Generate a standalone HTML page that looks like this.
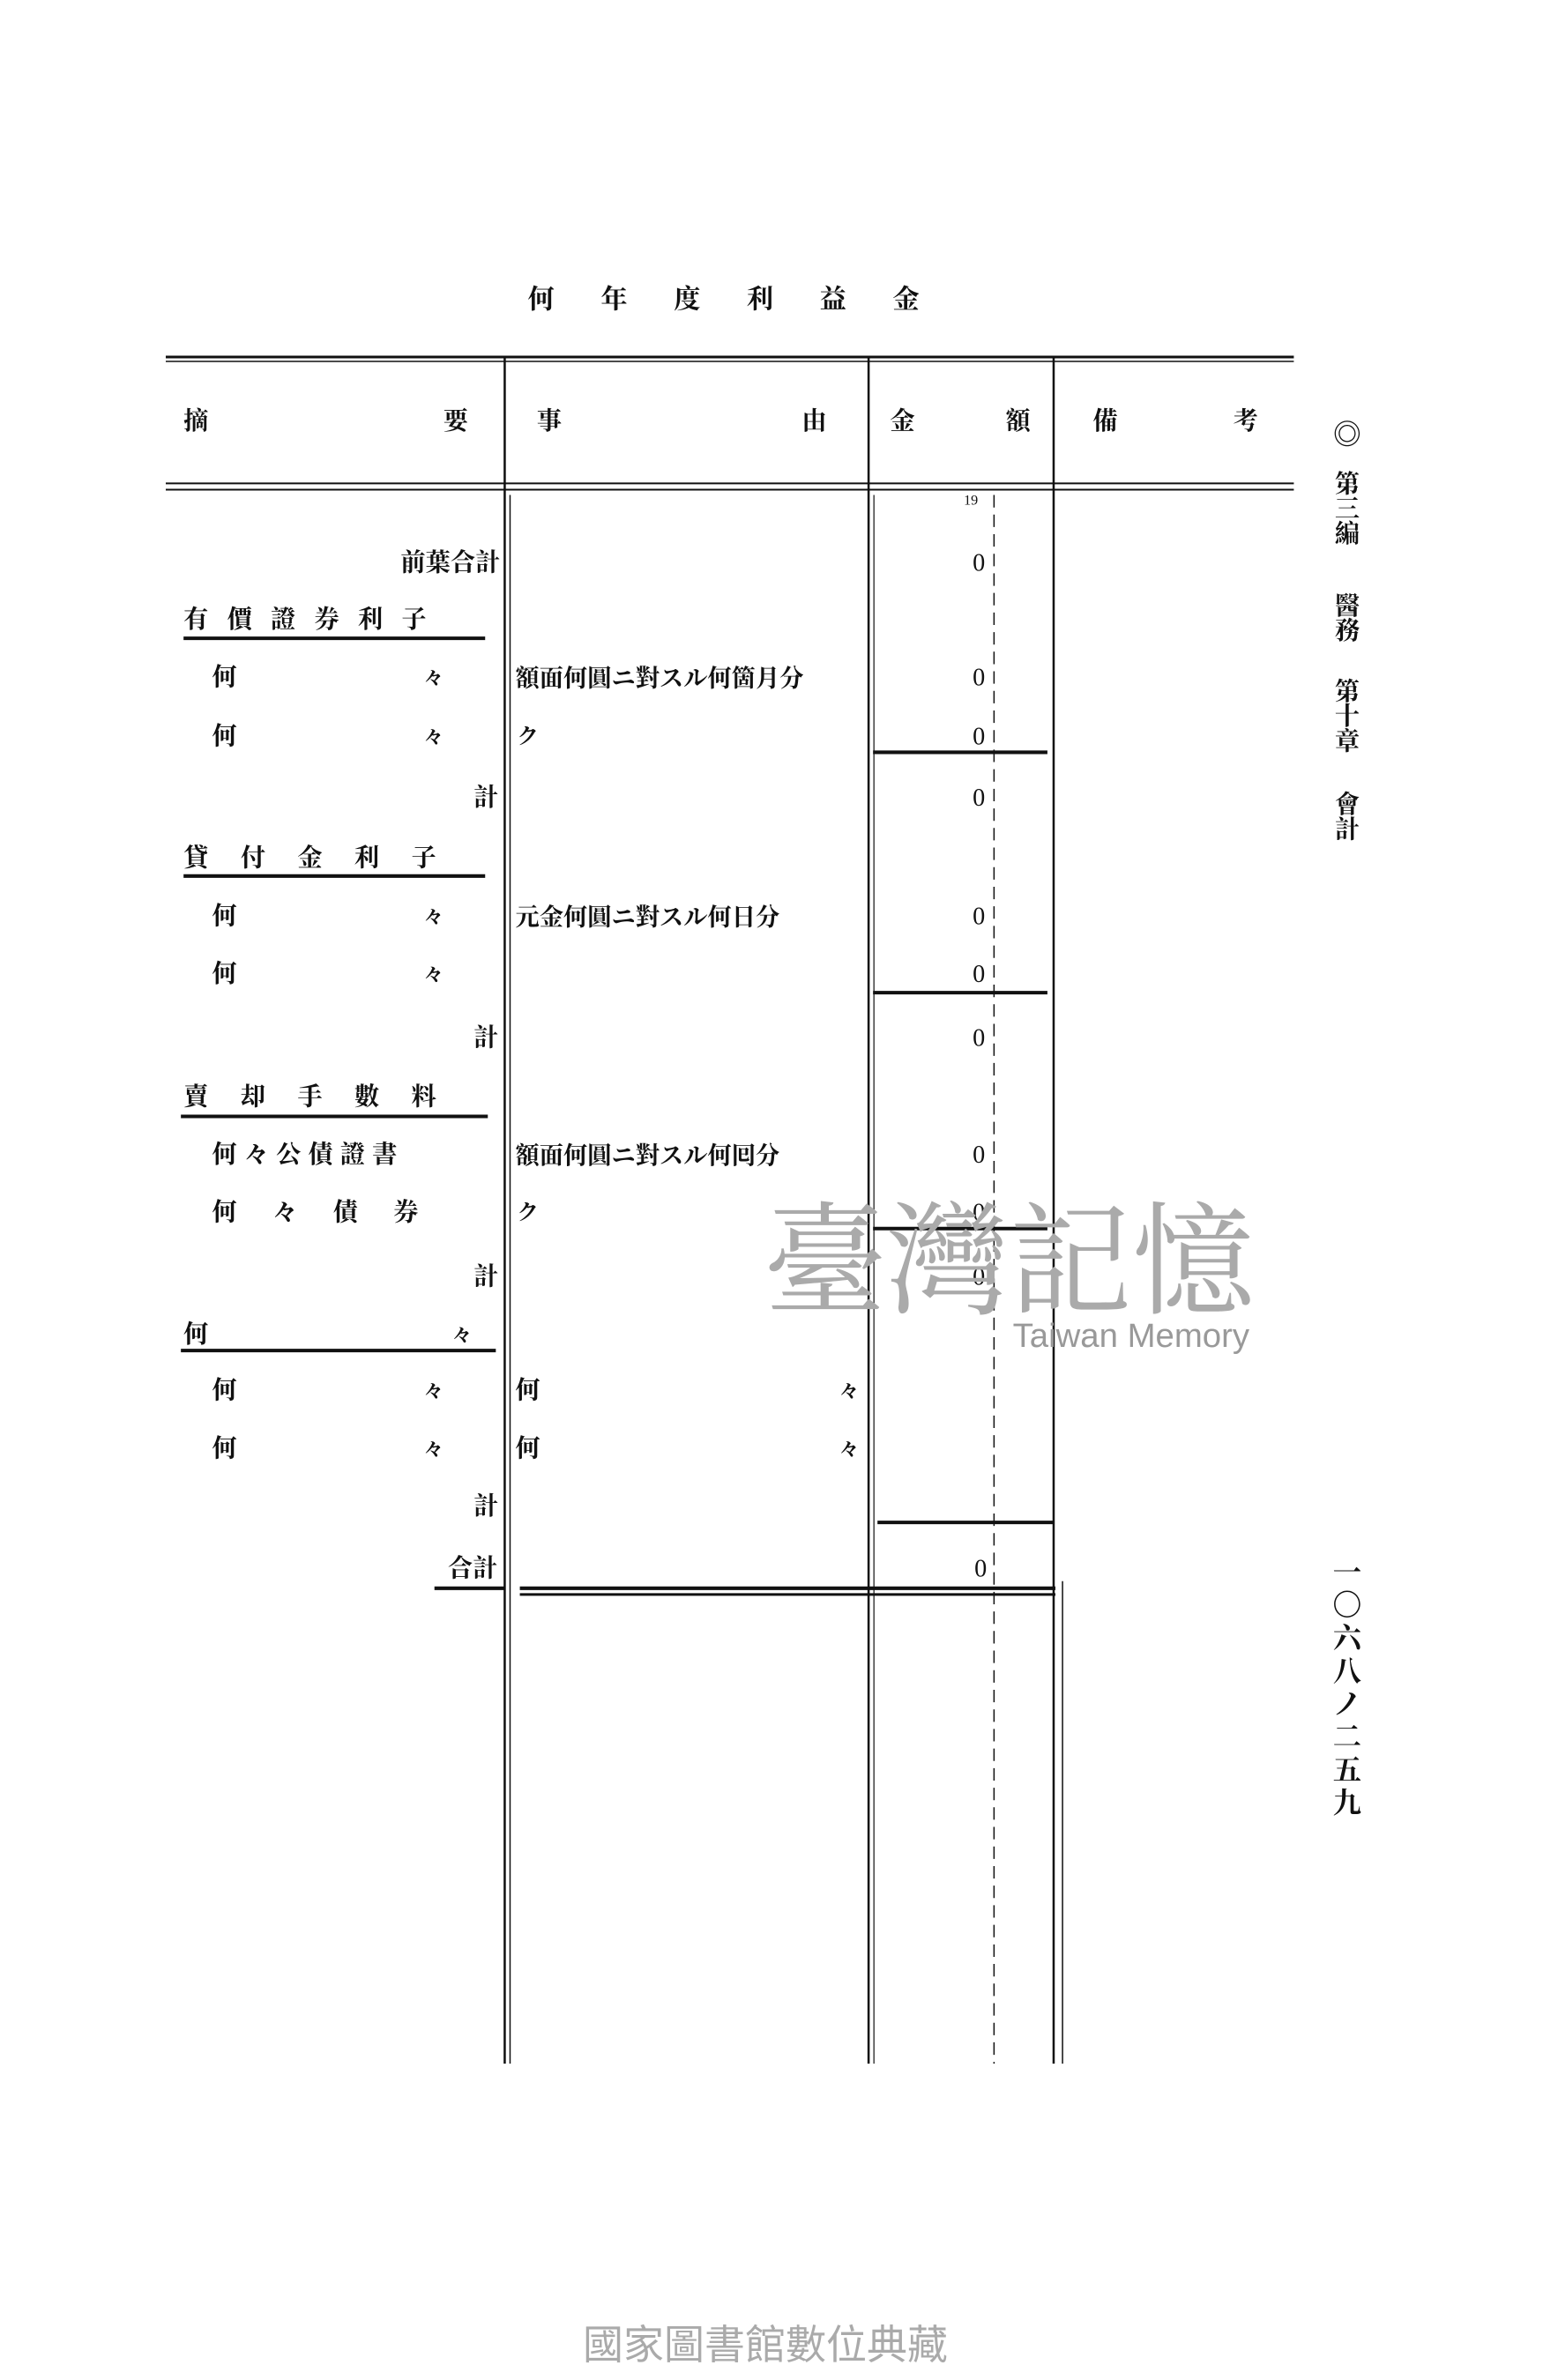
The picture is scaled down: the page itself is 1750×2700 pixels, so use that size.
<!DOCTYPE html>
<html><head><meta charset="utf-8"><style>
body{margin:0;background:#fff;}
#p{position:relative;width:1750px;height:2700px;overflow:hidden;background:#fff;font-family:"Liberation Serif","Noto Serif CJK SC","Noto Sans CJK JP",serif;font-weight:bold;color:#111;}
#in{position:absolute;left:0;top:0;width:1750px;height:2700px;transform-origin:188px 405px;transform:scale(1.009,1.01);}
.t{position:absolute;line-height:30px;font-size:28px;white-space:nowrap;}
.r{text-align:right;}
</style></head><body><div id="p"><div id="in">
<svg width="1750" height="2700" style="position:absolute;left:0;top:0">
<g stroke="#111" fill="none">
<line x1="188" y1="405" x2="1456" y2="405" stroke-width="3"/>
<line x1="188" y1="410" x2="1456" y2="410" stroke-width="1.5"/>
<line x1="188" y1="547" x2="1456" y2="547" stroke-width="2"/>
<line x1="188" y1="554" x2="1456" y2="554" stroke-width="2"/>
<line x1="569" y1="405" x2="569" y2="2322" stroke-width="2.5"/>
<line x1="575" y1="560" x2="575" y2="2322" stroke-width="1.5"/>
<line x1="978" y1="405" x2="978" y2="2322" stroke-width="2.5"/>
<line x1="984" y1="560" x2="984" y2="2322" stroke-width="1.2"/>
<line x1="1186" y1="405" x2="1186" y2="2322" stroke-width="2.5"/>
<line x1="1196" y1="1780" x2="1196" y2="2322" stroke-width="1.5"/>
<line x1="1119" y1="560" x2="1119" y2="2322" stroke-width="1.5" stroke-dasharray="14 8"/>
<line x1="208" y1="721" x2="547" y2="721" stroke-width="4"/>
<line x1="208" y1="988" x2="547" y2="988" stroke-width="4"/>
<line x1="205" y1="1258" x2="550" y2="1258" stroke-width="4"/>
<line x1="205" y1="1521" x2="559" y2="1521" stroke-width="4"/>
<line x1="983" y1="849" x2="1179" y2="849" stroke-width="4"/>
<line x1="983" y1="1119" x2="1179" y2="1119" stroke-width="4"/>
<line x1="983" y1="1384" x2="1179" y2="1384" stroke-width="4"/>
<line x1="988" y1="1714" x2="1186" y2="1714" stroke-width="4"/>
<line x1="490" y1="1788" x2="569" y2="1788" stroke-width="4"/>
<line x1="586" y1="1788" x2="1188" y2="1788" stroke-width="4"/>
<line x1="586" y1="1795" x2="1188" y2="1795" stroke-width="3"/>
</g></svg>
<div class="t" style="left:595px;top:326px;font-size:30px;letter-spacing:52px">何年度利益金</div>
<div class="t" style="left:208px;top:463px">摘</div><div class="t" style="left:500px;top:463px">要</div>
<div class="t" style="left:605px;top:463px">事</div><div class="t" style="left:903px;top:463px">由</div>
<div class="t" style="left:1002px;top:463px">金</div><div class="t" style="left:1132px;top:463px">額</div>
<div class="t" style="left:1230px;top:463px">備</div><div class="t" style="left:1388px;top:463px">考</div>
<div class="t" style="left:1085px;top:552px;font-size:16px;font-weight:normal">19</div>
<div class="t r" style="left:420px;width:144px;top:622px">前葉合計</div>
<div class="t" style="left:208px;top:686px;letter-spacing:21px">有價證券利子</div>
<div class="t" style="left:240px;top:751px">何</div><div class="t" style="left:478px;top:751px;font-size:22px">々</div>
<div class="t" style="left:581px;top:751px;font-size:27px">額面何圓ニ對スル何箇月分</div>
<div class="t" style="left:240px;top:817px">何</div><div class="t" style="left:478px;top:817px;font-size:22px">々</div>
<div class="t" style="left:583px;top:817px;font-size:24px">ク</div>
<div class="t" style="left:534px;top:886px">計</div>
<div class="t" style="left:208px;top:954px;letter-spacing:36px">貸付金利子</div>
<div class="t" style="left:240px;top:1019px">何</div><div class="t" style="left:478px;top:1019px;font-size:22px">々</div>
<div class="t" style="left:581px;top:1019px;font-size:27px">元金何圓ニ對スル何日分</div>
<div class="t" style="left:240px;top:1084px">何</div><div class="t" style="left:478px;top:1084px;font-size:22px">々</div>
<div class="t" style="left:534px;top:1156px">計</div>
<div class="t" style="left:208px;top:1222px;letter-spacing:36px">賣却手數料</div>
<div class="t" style="left:240px;top:1287px;letter-spacing:8px">何々公債證書</div>
<div class="t" style="left:581px;top:1287px;font-size:27px">額面何圓ニ對スル何囘分</div>
<div class="t" style="left:240px;top:1352px;letter-spacing:40px">何々債券</div>
<div class="t" style="left:583px;top:1352px;font-size:24px">ク</div>
<div class="t" style="left:534px;top:1424px">計</div>
<div class="t" style="left:208px;top:1489px">何</div><div class="t" style="left:510px;top:1489px;font-size:22px">々</div>
<div class="t" style="left:240px;top:1552px">何</div><div class="t" style="left:478px;top:1552px;font-size:22px">々</div>
<div class="t" style="left:581px;top:1552px">何</div><div class="t" style="left:945px;top:1552px;font-size:22px">々</div>
<div class="t" style="left:240px;top:1617px">何</div><div class="t" style="left:478px;top:1617px;font-size:22px">々</div>
<div class="t" style="left:581px;top:1617px">何</div><div class="t" style="left:945px;top:1617px;font-size:22px">々</div>
<div class="t" style="left:534px;top:1682px">計</div>
<div class="t" style="left:505px;top:1752px">合計</div>
<div class="t" style="left:1095px;top:622px;font-weight:normal">0</div>
<div class="t" style="left:1095px;top:751px;font-weight:normal">0</div>
<div class="t" style="left:1095px;top:817px;font-weight:normal">0</div>
<div class="t" style="left:1095px;top:886px;font-weight:normal">0</div>
<div class="t" style="left:1095px;top:1019px;font-weight:normal">0</div>
<div class="t" style="left:1095px;top:1084px;font-weight:normal">0</div>
<div class="t" style="left:1095px;top:1156px;font-weight:normal">0</div>
<div class="t" style="left:1095px;top:1287px;font-weight:normal">0</div>
<div class="t" style="left:1095px;top:1352px;font-weight:normal">0</div>
<div class="t" style="left:1095px;top:1424px;font-weight:normal">0</div>
<div class="t" style="left:1097px;top:1752px;font-weight:normal">0</div>
<div class="t" style="left:1500px;top:477px;font-size:32px;font-weight:normal">◎</div>
<div class="t" style="left:1502px;top:535px;width:30px;line-height:28px;white-space:normal;font-size:28px">第三編</div>
<div class="t" style="left:1502px;top:672px;width:30px;line-height:28px;white-space:normal;font-size:28px">醫務</div>
<div class="t" style="left:1502px;top:768px;width:30px;line-height:28px;white-space:normal;font-size:28px">第十章</div>
<div class="t" style="left:1502px;top:895px;width:30px;line-height:28px;white-space:normal;font-size:28px">會計</div>
<div class="t" style="left:1500px;top:1752px;width:32px;line-height:37px;white-space:normal;font-size:32px">一〇六八ノ二五九</div>
<div class="t" style="left:860px;top:1335px;font-size:138px;line-height:150px;color:#aaa;font-weight:normal;font-family:'Noto Serif CJK SC',serif">臺灣記憶</div>
<div class="t" style="left:1140px;top:1485px;font-size:38px;line-height:40px;color:#999;font-weight:normal;font-family:'Liberation Sans',sans-serif">Taiwan Memory</div>
</div>
<div class="t" style="left:0;width:1736px;text-align:center;top:2632px;font-size:46px;line-height:50px;color:#aaa;font-weight:normal;font-family:'Noto Sans CJK TC',sans-serif">國家圖書館數位典藏</div>
</div></body></html>
